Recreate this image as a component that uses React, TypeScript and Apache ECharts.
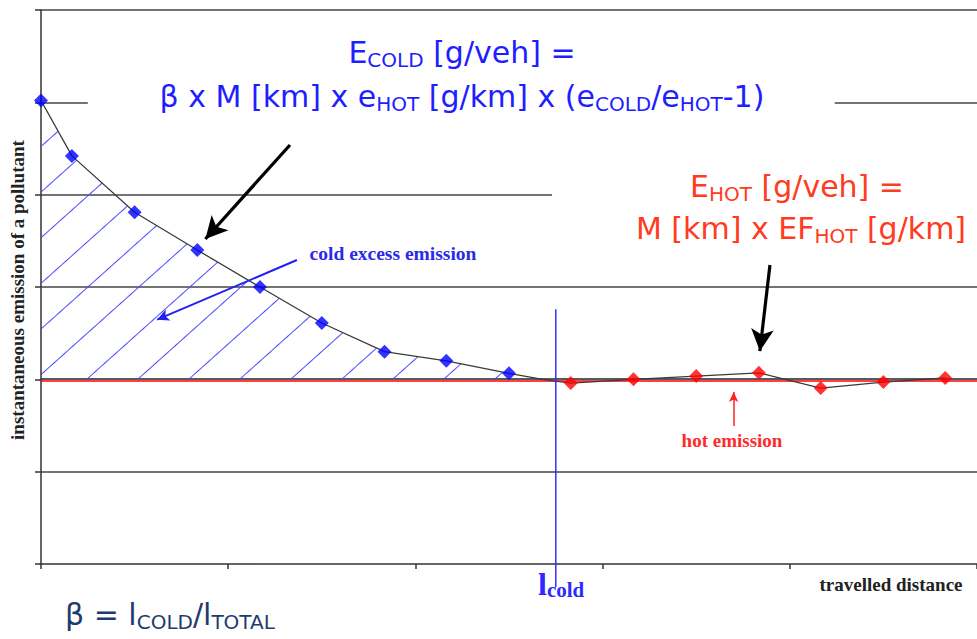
import React, { useEffect, useRef } from 'react';
import * as echarts from 'echarts';

// distance along the trip (axis units) and instantaneous emission (axis units)
const coldX = [0, 0.165, 0.5, 0.835, 1.17, 1.5, 1.835, 2.165, 2.5];
const coldY = [3.02, 2.42, 1.81, 1.4, 1.0, 0.61, 0.3, 0.2, 0.065];
const junctionX = [2.68];
const junctionY = [0.0];
const hotX = [2.83, 3.165, 3.5, 3.835, 4.165, 4.5, 4.83];
const hotY = [-0.04, 0.0, 0.035, 0.07, -0.095, -0.03, 0.015];
const lColdX = 2.75;
const lColdSpan = [0.76, -2.25];

const xMin = 0, xMax = 5, xInterval = 1;
const yMin = -2, yMax = 4, yInterval = 1;

const sans = "'DejaVu Sans', Verdana, sans-serif";
const serif = "'Liberation Serif', 'Times New Roman', serif";

const pairs = (xs: number[], ys: number[]) => xs.map((x, i) => [x, ys[i]]);

function mathRich(color: string, main: number, sub: number) {
  return {
    m: { fontSize: main, fontFamily: sans, fill: color, lineHeight: 36 },
    s: { fontSize: sub, fontFamily: sans, fill: color, lineHeight: 20, verticalAlign: 'bottom' },
  };
}

export default function App() {
  const ref = useRef<HTMLDivElement>(null);
  useEffect(() => {
    document.body.style.margin = '0';
    const chart = echarts.init(ref.current!, null, { renderer: 'svg' });
    const coldPts = pairs(coldX, coldY);
    const junction = pairs(junctionX, junctionY);
    const hotPts = pairs(hotX, hotY);
    const grey = '#444';

    const gridLines = {
      silent: true,
      symbol: ['none', 'none'],
      label: { show: false },
      z: 1,
      lineStyle: { color: grey, width: 1.5, type: 'solid' },
      data: [
        { yAxis: 4 },
        [{ coord: [0, 3] }, { coord: [0.25, 3] }],
        [{ coord: [4.24, 3] }, { coord: [5, 3] }],
        [{ coord: [0, 2] }, { coord: [2.73, 2] }],
        { yAxis: 1 },
        { yAxis: 0.008, lineStyle: { color: '#222', width: 1.5 } },
        { yAxis: -0.01, lineStyle: { color: '#ff0000', width: 1.6 } },
        { yAxis: -1 },
      ],
    };

    const arrows = {
      silent: true,
      label: { show: false },
      z: 6,
      symbol: ['none', 'arrow'],
      data: [
        [
          { coord: [1.33, 2.538], symbol: 'none', lineStyle: { color: '#000', width: 3.2, type: 'solid' } },
          { coord: [0.878, 1.52], symbol: 'arrow', symbolSize: [17, 22] },
        ],
        [
          { coord: [3.894, 1.238], symbol: 'none', lineStyle: { color: '#000', width: 3.2, type: 'solid' } },
          { coord: [3.84, 0.306], symbol: 'arrow', symbolSize: [17, 22] },
        ],
        [
          { coord: [1.367, 1.292], symbol: 'none', lineStyle: { color: '#2020f0', width: 2, type: 'solid' } },
          { coord: [0.62, 0.646], symbol: 'arrow', symbolSize: [9, 12] },
        ],
        [
          { coord: [3.7, -0.506], symbol: 'none', lineStyle: { color: '#ff2020', width: 1.5, type: 'solid' } },
          { coord: [3.7, -0.138], symbol: 'arrow', symbolSize: [7, 10] },
        ],
      ],
    };

    chart.setOption({
      animation: false,
      grid: { left: 41, right: -4, top: 10, bottom: 75, containLabel: false },
      xAxis: {
        type: 'value', min: xMin, max: xMax, interval: xInterval,
        axisLine: { onZero: false, lineStyle: { color: '#333', width: 1.5 } },
        axisTick: { show: true, length: 5, lineStyle: { color: '#333', width: 1.5 } },
        axisLabel: { show: false },
        splitLine: { show: false },
      },
      yAxis: {
        type: 'value', min: yMin, max: yMax, interval: yInterval,
        axisLine: { show: true, onZero: false, lineStyle: { color: '#333', width: 1.5 } },
        axisTick: { show: true, length: 6, lineStyle: { color: '#333', width: 1.5 } },
        axisLabel: { show: false },
        splitLine: { show: false },
      },
      series: [
        {
          name: 'hatch', type: 'line', data: [...coldPts, ...junction],
          showSymbol: false, symbol: 'none', z: 1, silent: true,
          lineStyle: { width: 0, opacity: 0 },
          itemStyle: {
            color: '#4646ff',
            decal: {
              symbol: 'rect', symbolSize: 1, color: '#4a4aff', backgroundColor: 'rgba(0,0,0,0)',
              dashArrayX: [1, 0], dashArrayY: [1, 33], rotation: -0.73,
            },
          },
          areaStyle: { color: 'rgba(255,255,255,0)', opacity: 1 },
          markLine: gridLines,
        },
        {
          name: 'curve', type: 'line', data: [...coldPts, ...junction, ...hotPts],
          showSymbol: false, symbol: 'none', z: 3, silent: true,
          lineStyle: { color: '#3a3a3a', width: 1.3 },
        },
        {
          name: 'cold', type: 'scatter', data: coldPts, symbol: 'diamond', symbolSize: 14,
          itemStyle: { color: '#0000ff' }, z: 4, silent: true,
          markLine: arrows,
        },
        {
          name: 'hot', type: 'scatter', data: hotPts, symbol: 'diamond', symbolSize: 14,
          itemStyle: { color: '#ff0000' }, z: 4, silent: true,
        },
        {
          name: 'lcold', type: 'custom', data: [[lColdX, lColdSpan[0], lColdSpan[1]]],
          clip: false, z: 5, silent: true,
          renderItem: (params: any, api: any) => {
            const a = api.coord([api.value(0), api.value(1)]);
            const b = api.coord([api.value(0), api.value(2)]);
            return { type: 'line', shape: { x1: a[0], y1: a[1], x2: b[0], y2: b[1] }, style: { stroke: '#2f2fff', lineWidth: 1.5 } };
          },
        },
      ],
      graphic: [
        {
          type: 'text', x: 462, y: 52, z: 10,
          style: { text: '{m|E}{s|COLD}{m| [g/veh] =}', align: 'center', verticalAlign: 'middle', rich: mathRich('#1e1eff', 30, 20) },
        },
        {
          type: 'text', x: 462, y: 96, z: 10,
          style: {
            text: '{m|β x M [km] x e}{s|HOT}{m| [g/km] x (e}{s|COLD}{m|/e}{s|HOT}{m|-1)}',
            align: 'center', verticalAlign: 'middle', rich: mathRich('#1e1eff', 30, 20),
          },
        },
        {
          type: 'text', x: 797, y: 186, z: 10,
          style: { text: '{m|E}{s|HOT}{m| [g/veh] =}', align: 'center', verticalAlign: 'middle', rich: mathRich('#ff3b22', 30, 20) },
        },
        {
          type: 'text', x: 801, y: 228, z: 10,
          style: { text: '{m|M [km] x EF}{s|HOT}{m| [g/km]}', align: 'center', verticalAlign: 'middle', rich: mathRich('#ff3b22', 30, 20) },
        },
        {
          type: 'text', x: 65, y: 614, z: 10,
          style: { text: '{m|β = l}{s|COLD}{m|/l}{s|TOTAL}', align: 'left', verticalAlign: 'middle', rich: mathRich('#1f3b6e', 30, 20) },
        },
        {
          type: 'text', x: 393, y: 253, z: 10,
          style: { text: 'cold excess emission', align: 'center', verticalAlign: 'middle', fontFamily: serif, fontWeight: 'bold', fontSize: 19.5, fill: '#2a2ae8' },
        },
        {
          type: 'text', x: 732, y: 440, z: 10,
          style: { text: 'hot emission', align: 'center', verticalAlign: 'middle', fontFamily: serif, fontWeight: 'bold', fontSize: 19, fill: '#ff2a2a' },
        },
        {
          type: 'text', x: 891, y: 584, z: 10,
          style: { text: 'travelled distance', align: 'center', verticalAlign: 'middle', fontFamily: serif, fontWeight: 'bold', fontSize: 19, fill: '#222' },
        },
        {
          type: 'text', x: 17, y: 290, rotation: Math.PI / 2, z: 10,
          style: { text: 'instantaneous emission of a pollutant', align: 'center', verticalAlign: 'middle', fontFamily: serif, fontWeight: 'bold', fontSize: 19, fill: '#222' },
        },
        {
          type: 'text', x: 538, y: 568, z: 0,
          style: {
            text: '{b|l}{c|cold}', align: 'left', verticalAlign: 'top',
            rich: {
              b: { fontSize: 32, fontFamily: serif, fontWeight: 'bold', fill: '#2b2bff', lineHeight: 32 },
              c: { fontSize: 21, fontFamily: serif, fontWeight: 'bold', fill: '#2b2bff', lineHeight: 12, verticalAlign: 'bottom' },
            },
          },
        },
      ],
    });
    return () => chart.dispose();
  }, []);
  return <div ref={ref} style={{ width: 977, height: 639 }} />;
}
